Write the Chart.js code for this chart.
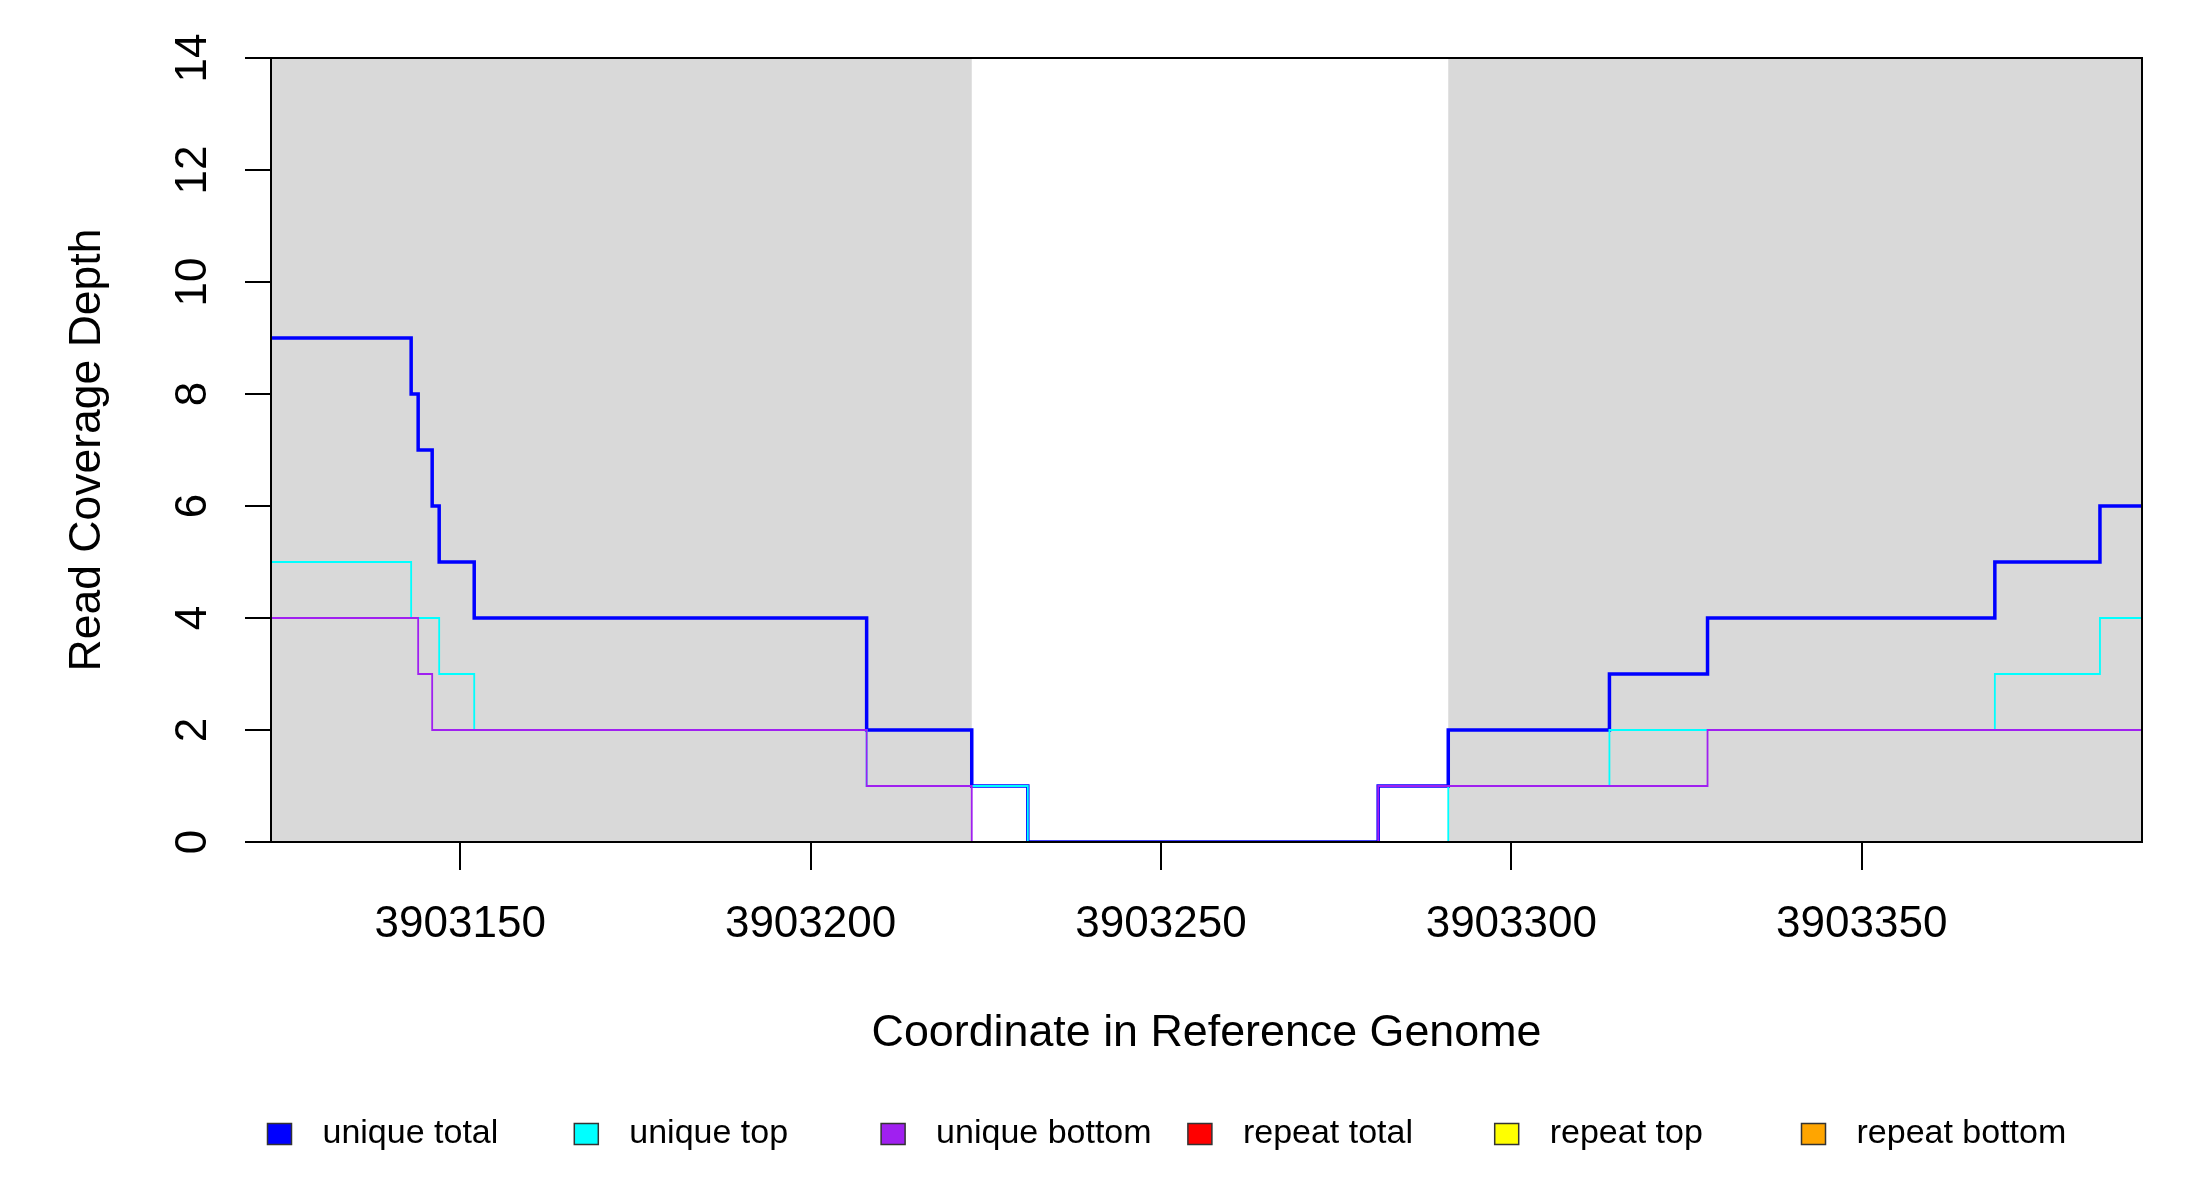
<!DOCTYPE html>
<html><head><meta charset="utf-8">
<script src="https://cdn.jsdelivr.net/npm/chart.js@4.4.1/dist/chart.umd.min.js"></script>
<style>html,body{margin:0;padding:0;background:#fff;}</style>
</head><body>
<canvas id="c" width="2200" height="1200"></canvas>
<script>
// ---- data ----
const xRange = [3903123, 3903390];
const xTickValues = [3903150, 3903200, 3903250, 3903300, 3903350];
const yRange = [0, 14];
const yStep = 2;
const shadedStarts = [3903123, 3903291];
const shadedEnds = [3903223, 3903390];
const seriesNames = ['unique total', 'unique top', 'unique bottom', 'repeat total', 'repeat top', 'repeat bottom'];
const seriesColors = ['#0000FF', '#00FFFF', '#A020F0', '#FF0000', '#FFFF00', '#FFA500'];

const uniqueTotalX = [3903123, 3903143, 3903144, 3903146, 3903147, 3903152, 3903208, 3903223, 3903231, 3903281, 3903291, 3903314, 3903328, 3903369, 3903384, 3903390];
const uniqueTotalY = [9, 8, 7, 6, 5, 4, 2, 1, 0, 1, 2, 3, 4, 5, 6, 6];
const uniqueTopX = [3903123, 3903143, 3903147, 3903152, 3903208, 3903231, 3903291, 3903314, 3903369, 3903384, 3903390];
const uniqueTopY = [5, 4, 3, 2, 1, 0, 1, 2, 3, 4, 4];
const uniqueBottomX = [3903123, 3903144, 3903146, 3903208, 3903223, 3903281, 3903328, 3903390];
const uniqueBottomY = [4, 3, 2, 1, 0, 1, 2, 2];
const repeatX = [3903123, 3903390];
const repeatTotalY = [0, 0];
const repeatTopY = [0, 0];
const repeatBottomY = [0, 0];

const pts = (xs, ys) => xs.map((x, i) => ({x: x, y: ys[i]}));

const FONT = "'Liberation Sans', Arial, sans-serif";
Chart.defaults.font.family = FONT;
Chart.defaults.color = '#000';

const shadePlugin = {
  id: 'shade',
  beforeDatasetsDraw(chart) {
    const {ctx, chartArea: a, scales: {x}} = chart;
    ctx.save();
    ctx.fillStyle = '#D9D9D9';
    for (let i = 0; i < shadedStarts.length; i++) {
      const x0 = x.getPixelForValue(shadedStarts[i]);
      const x1 = x.getPixelForValue(shadedEnds[i]);
      ctx.fillRect(x0, a.top, x1 - x0, a.bottom - a.top);
    }
    ctx.restore();
  }
};
const boxPlugin = {
  id: 'box',
  afterDatasetsDraw(chart) {
    const {ctx, chartArea: a} = chart;
    ctx.save();
    ctx.strokeStyle = '#000';
    ctx.lineWidth = 2;
    ctx.strokeRect(a.left, a.top, a.right - a.left, a.bottom - a.top);
    ctx.restore();
  }
};
const legendPlugin = {
  id: 'rlegend',
  afterDraw(chart) {
    const {ctx, chartArea: a} = chart;
    ctx.save();
    ctx.font = '34px ' + FONT;
    ctx.textBaseline = 'middle';
    ctx.textAlign = 'left';
    const y = a.bottom + 292;
    chart.data.datasets.forEach((ds, i) => {
      const bx = a.left - 3.5 + i * 306.8;
      ctx.fillStyle = ds.borderColor;
      ctx.fillRect(bx, y - 10.5, 24, 21);
      ctx.strokeStyle = '#333';
      ctx.lineWidth = 1.5;
      ctx.strokeRect(bx, y - 10.5, 24, 21);
      ctx.fillStyle = '#000';
      ctx.fillText(ds.label, bx + 55, y);
    });
    ctx.restore();
  }
};

const ySeries = [
  [uniqueTotalX, uniqueTotalY, 3.5, 3],
  [uniqueTopX, uniqueTopY, 1.8, 2],
  [uniqueBottomX, uniqueBottomY, 1.8, 1],
  [repeatX, repeatTotalY, 1.8, 6],
  [repeatX, repeatTopY, 1.8, 5],
  [repeatX, repeatBottomY, 1.8, 4]
];

new Chart(document.getElementById('c'), {
  type: 'line',
  data: {
    datasets: ySeries.map((s, i) => ({
      label: seriesNames[i],
      data: pts(s[0], s[1]),
      borderColor: seriesColors[i],
      backgroundColor: seriesColors[i],
      borderWidth: s[2],
      order: s[3],
      stepped: true,
      pointRadius: 0,
      fill: false,
      tension: 0
    }))
  },
  options: {
    responsive: false,
    devicePixelRatio: 1,
    animation: false,
    events: [],
    layout: {padding: {left: 0, right: 58, top: 58, bottom: 100}},
    plugins: {legend: {display: false}, tooltip: {enabled: false}, title: {display: false}},
    scales: {
      x: {
        type: 'linear',
        min: xRange[0], max: xRange[1],
        afterBuildTicks: (s) => { s.ticks = xTickValues.map(v => ({value: v})); },
        afterFit: (s) => { s.height = 258; },
        ticks: {font: {size: 44}, color: '#000', padding: 28, maxRotation: 0, minRotation: 0, autoSkip: false,
          callback: (v) => String(v)},
        grid: {drawOnChartArea: false, drawTicks: true, tickLength: 28, color: '#000', lineWidth: 2},
        border: {display: false},
        title: {display: true, text: 'Coordinate in Reference Genome', font: {size: 44.8}, color: '#000',
          padding: {top: 0, bottom: 39.5}}
      },
      y: {
        type: 'linear',
        min: yRange[0], max: yRange[1],
        afterBuildTicks: (s) => { const t = []; for (let v = yRange[0]; v <= yRange[1]; v += yStep) t.push({value: v}); s.ticks = t; },
        afterFit: (s) => { s.width = 271; },
        ticks: {font: {size: 44}, color: '#000', padding: 27, minRotation: 90, maxRotation: 90, crossAlign: 'center',
          callback: (v) => String(v)},
        grid: {drawOnChartArea: false, drawTicks: true, tickLength: 26, color: '#000', lineWidth: 2},
        border: {display: false},
        title: {display: true, text: 'Read Coverage Depth', font: {size: 44.5}, color: '#000',
          padding: {top: 61, bottom: 0}}
      }
    }
  },
  plugins: [shadePlugin, boxPlugin, legendPlugin]
});
</script>
</body></html>
